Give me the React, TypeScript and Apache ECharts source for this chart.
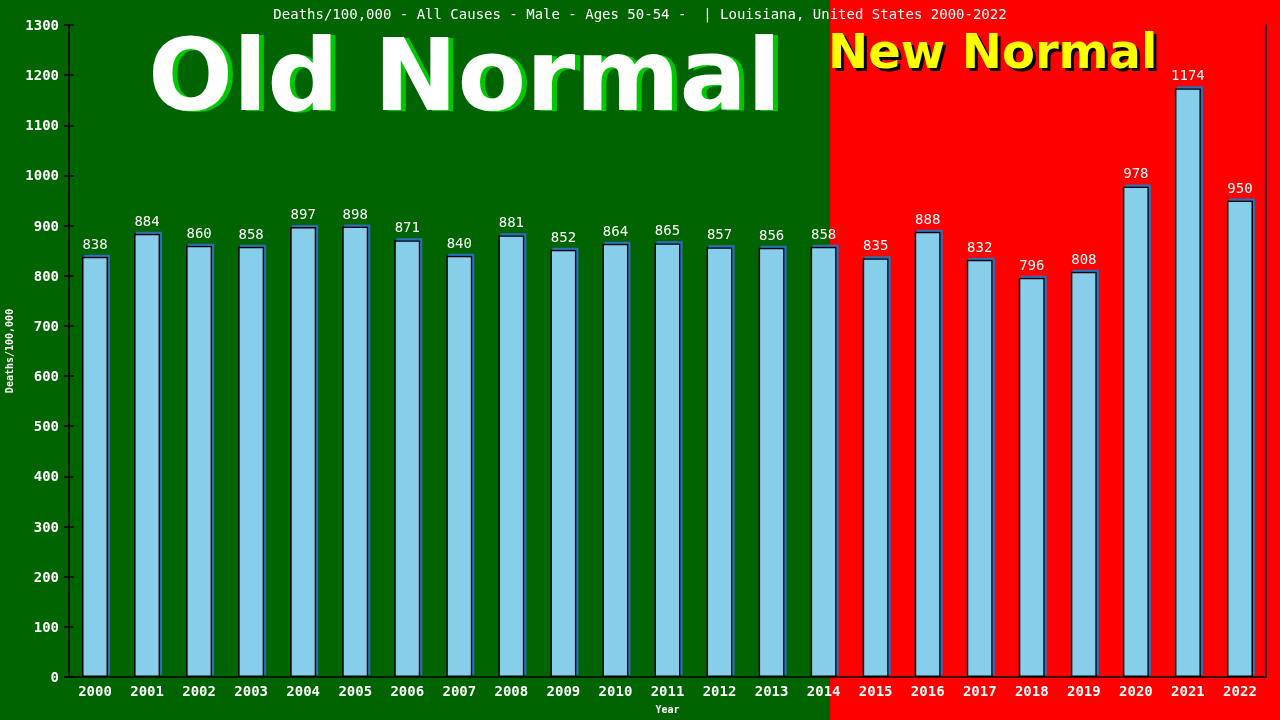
import * as React from "react";
import * as echarts from "echarts";

const years = [
  "2000", "2001", "2002", "2003", "2004", "2005", "2006", "2007", "2008", "2009", "2010", "2011",
  "2012", "2013", "2014", "2015", "2016", "2017", "2018", "2019", "2020", "2021", "2022",
];
const deathsPer100k = [
  838, 884, 860, 858, 897, 898, 871, 840, 881, 852, 864, 865,
  857, 856, 858, 835, 888, 832, 796, 808, 978, 1174, 950,
];
const titleText =
  "Deaths/100,000 - All Causes - Male - Ages 50-54 -  | Louisiana, United States 2000-2022";

const mono = "'DejaVu Sans Mono', monospace";

export default function App() {
  const chartRef = React.useRef<HTMLDivElement | null>(null);

  React.useEffect(() => {
    if (!chartRef.current) return;
    const chart = echarts.init(chartRef.current, null, { renderer: "svg" });

    const oldFont = "bold 100px 'DejaVu Sans'";
    const newFont = "bold 48px 'DejaVu Sans'";

    chart.setOption({
      animation: false,
      title: {
        text: titleText,
        left: "center",
        top: 1,
        textStyle: { color: "#ffffff", fontSize: 14, fontWeight: "normal", fontFamily: mono, lineHeight: 16 },
      },
      graphic: [
        { type: "rect", z: -10, shape: { x: 0, y: 0, width: 830, height: 720 }, style: { fill: "#006400" } },
        { type: "rect", z: -10, shape: { x: 830, y: 0, width: 450, height: 720 }, style: { fill: "#ff0000" } },
        // shadow copies drawn first, then the face text
        {
          type: "text",
          z: 49,
          x: 153,
          y: 76,
          style: { text: "Old Normal", fill: "#00c800", font: oldFont, verticalAlign: "middle", lineHeight: 78 },
        },
        {
          type: "text",
          z: 50,
          x: 148,
          y: 75,
          style: { text: "Old Normal", fill: "#ffffff", font: oldFont, verticalAlign: "middle", lineHeight: 78 },
        },
        {
          type: "text",
          z: 49,
          x: 831,
          y: 54,
          style: { text: "New Normal", fill: "#000000", font: newFont, verticalAlign: "middle", lineHeight: 38 },
        },
        {
          type: "text",
          z: 50,
          x: 828,
          y: 51,
          style: { text: "New Normal", fill: "#ffff00", font: newFont, verticalAlign: "middle", lineHeight: 38 },
        },
      ],
      grid: { left: 69, right: 14, top: 25, bottom: 43, outerBoundsMode: "none" },
      xAxis: {
        type: "category",
        data: years,
        name: "Year",
        nameLocation: "middle",
        nameGap: 27,
        nameTextStyle: { color: "#ffffff", fontSize: 10, fontWeight: "bold", fontFamily: mono },
        axisLine: { lineStyle: { color: "#000000", width: 1.5 } },
        axisTick: { show: false },
        axisLabel: { color: "#ffffff", fontSize: 14, fontWeight: "bold", fontFamily: mono, margin: 7, interval: 0 },
      },
      yAxis: [
        {
          type: "value",
          min: 0,
          max: 1300,
          interval: 100,
          name: "Deaths/100,000",
          nameLocation: "middle",
          nameGap: 53,
          nameTextStyle: { color: "#ffffff", fontSize: 10, fontWeight: "bold", fontFamily: mono },
          axisLine: { show: true, lineStyle: { color: "#000000", width: 1.5 } },
          axisTick: { show: true, length: 5, lineStyle: { color: "#000000", width: 1.5 } },
          axisLabel: {
            color: "#ffffff",
            fontSize: 14,
            fontWeight: "bold",
            fontFamily: mono,
            margin: 10,
            formatter: (v: number) => String(v),
          },
          splitLine: { show: false },
        },
        {
          type: "value",
          position: "left",
          min: 0,
          max: 1300,
          interval: 100,
          axisLine: { show: false },
          axisTick: { show: true, inside: true, length: 5, lineStyle: { color: "#000000", width: 1.5 } },
          axisLabel: { show: false },
          splitLine: { show: false },
        },
        {
          type: "value",
          position: "right",
          min: 0,
          max: 1300,
          interval: 100,
          axisLine: { show: true, lineStyle: { color: "#000000", width: 1.5 } },
          axisTick: { show: false },
          axisLabel: { show: false },
          splitLine: { show: false },
        },
      ],
      series: [
        {
          type: "bar",
          data: deathsPer100k,
          barWidth: "50%",
          itemStyle: {
            color: "#87ceeb",
            borderColor: "#000000",
            borderWidth: 1.5,
            shadowColor: "#2f6fb8",
            shadowOffsetX: 2,
            shadowOffsetY: -2,
            shadowBlur: 0,
          },
          label: {
            show: true,
            position: "top",
            distance: 6,
            color: "#ffffff",
            fontSize: 14,
            fontFamily: mono,
          },
        },
      ],
    });

    return () => chart.dispose();
  }, []);

  return (
    <div
      ref={chartRef}
      style={{ position: "fixed", left: 0, top: 0, width: 1280, height: 720 }}
    />
  );
}
